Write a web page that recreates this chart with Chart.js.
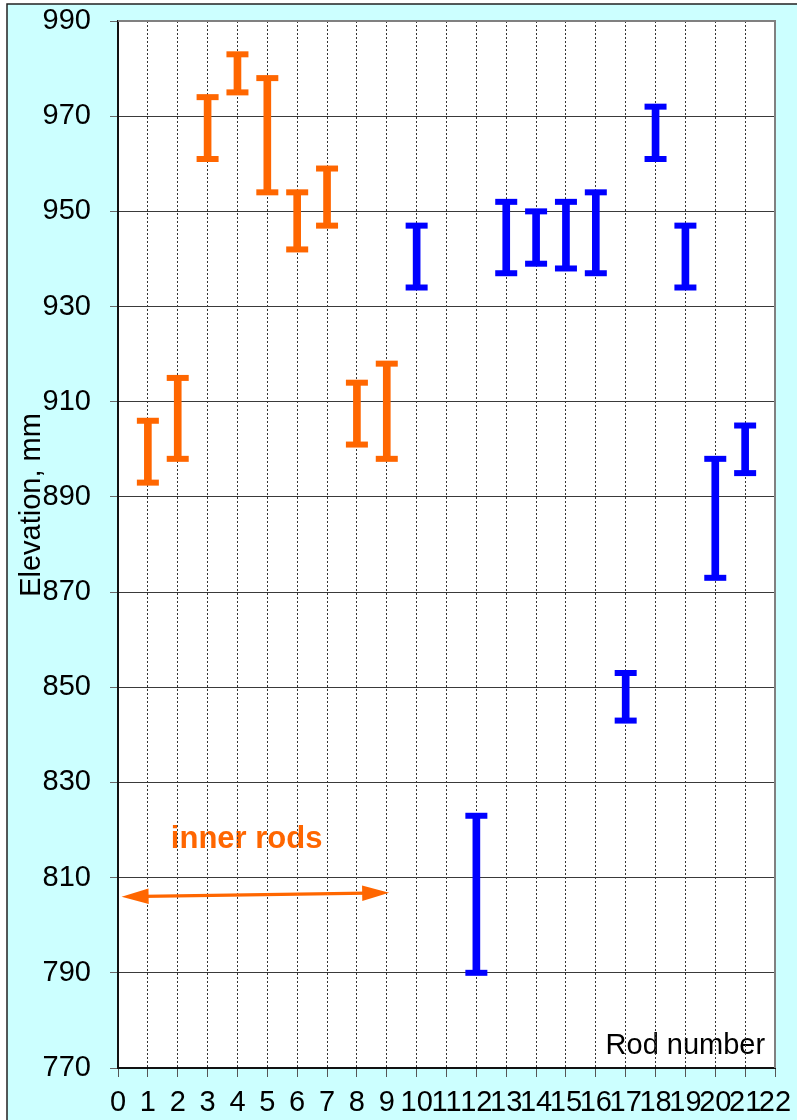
<!DOCTYPE html>
<html>
<head>
<meta charset="utf-8">
<script src="https://cdn.jsdelivr.net/npm/chart.js@4.4.0/dist/chart.umd.min.js"></script>
<style>
  html, body { margin: 0; padding: 0; background: #fff; }
  canvas { display: block; }
</style>
</head>
<body>
<canvas id="chart" width="797" height="1120"></canvas>
<script>
// Elevation range (low / high, mm) measured on each rod
const innerRods = [1, 2, 3, 4, 5, 6, 7, 8, 9];
const innerLow  = [893, 898, 961, 975, 954, 942, 947, 901, 898];
const innerHigh = [906, 915, 974, 983, 978, 954, 959, 914, 918];

const outerRods = [10, 12, 13, 14, 15, 16, 17, 18, 19, 20, 21];
const outerLow  = [934, 790, 937, 939, 938, 937, 843, 961, 934, 873, 895];
const outerHigh = [947, 823, 952, 950, 952, 954, 853, 972, 947, 898, 905];

// Axis ranges
const rodAxis = { min: 0, max: 22, step: 1 };
const elevAxis = { min: 770, max: 990, step: 20 };

// Annotation: arrow spanning the inner rods, with its label
const arrowFrom = [0.12, 806.0];
const arrowTo   = [9.08, 806.8];
const innerLabelAt = [1.77, 816.2];
const rodTitleAt = [21.67, 772.9];

const ORANGE = '#FF6600';
const BLUE = '#0000FF';
const FONT = '"Liberation Sans", Arial, sans-serif';

const ranges = (xs, lo, hi) => xs.map((x, i) => ({ x: x, y: [lo[i], hi[i]] }));
const caps = (xs, lo, hi) => xs.map((x, i) => ({ x: x, y: lo[i] }))
  .concat(xs.map((x, i) => ({ x: x, y: hi[i] })));

const barStyle = color => ({
  type: 'bar',
  backgroundColor: color,
  borderWidth: 0,
  borderSkipped: false,
  barThickness: 7,
  grouped: false
});
const capStyle = color => ({
  type: 'scatter',
  showLine: false,
  pointStyle: 'line',
  pointRadius: 11,
  pointHoverRadius: 11,
  pointBorderWidth: 6,
  pointBorderColor: color,
  pointBackgroundColor: color,
  borderColor: color
});

const backdrop = {
  id: 'backdrop',
  beforeDraw(chart) {
    const { ctx, width, height, chartArea: a, scales } = chart;
    const px = v => scales.x.getPixelForValue(v);
    const py = v => scales.y.getPixelForValue(v);
    ctx.save();
    ctx.fillStyle = '#fff';
    ctx.fillRect(0, 0, width, height);
    ctx.fillStyle = '#CCFFFF';
    ctx.fillRect(7, 4, width - 7, height - 4);
    ctx.strokeStyle = '#222';
    ctx.lineWidth = 1.5;
    ctx.beginPath();
    ctx.moveTo(7, height);
    ctx.lineTo(7, 4);
    ctx.lineTo(width, 4);
    ctx.stroke();
    ctx.fillStyle = '#fff';
    ctx.fillRect(a.left, a.top, a.right - a.left, a.bottom - a.top);

    // text boxes sit beneath the grid
    ctx.fillStyle = '#000';
    ctx.font = '29px ' + FONT;
    ctx.textAlign = 'right';
    ctx.textBaseline = 'alphabetic';
    ctx.fillText('Rod number', px(rodTitleAt[0]), py(rodTitleAt[1]));

    ctx.save();
    ctx.translate(40, 505);
    ctx.rotate(-Math.PI / 2);
    ctx.textAlign = 'center';
    ctx.fillText('Elevation, mm', 0, 0);
    ctx.restore();

    ctx.fillStyle = ORANGE;
    ctx.font = 'bold 31px ' + FONT;
    ctx.textAlign = 'left';
    ctx.fillText('inner rods', px(innerLabelAt[0]), py(innerLabelAt[1]));
    ctx.restore();
  },
  afterDraw(chart) {
    const { ctx, chartArea: a, scales } = chart;
    const px = v => scales.x.getPixelForValue(v);
    const py = v => scales.y.getPixelForValue(v);
    ctx.save();
    // plot frame (top and right)
    ctx.strokeStyle = '#808080';
    ctx.lineWidth = 2;
    ctx.beginPath();
    ctx.moveTo(a.left, a.top);
    ctx.lineTo(a.right, a.top);
    ctx.lineTo(a.right, a.bottom);
    ctx.stroke();

    // double arrow across the inner rods
    const x1 = px(arrowFrom[0]), y1 = py(arrowFrom[1]);
    const x2 = px(arrowTo[0]), y2 = py(arrowTo[1]);
    const ang = Math.atan2(y2 - y1, x2 - x1);
    const headLen = 27, headHalf = 7.8;
    ctx.strokeStyle = ORANGE;
    ctx.fillStyle = ORANGE;
    ctx.lineWidth = 3.3;
    ctx.beginPath();
    ctx.moveTo(x1 + Math.cos(ang) * headLen * 0.8, y1 + Math.sin(ang) * headLen * 0.8);
    ctx.lineTo(x2 - Math.cos(ang) * headLen * 0.8, y2 - Math.sin(ang) * headLen * 0.8);
    ctx.stroke();
    const head = (tx, ty, dir) => {
      const c = Math.cos(ang) * dir, s = Math.sin(ang) * dir;
      const bx = tx - c * headLen, by = ty - s * headLen;
      ctx.beginPath();
      ctx.moveTo(tx, ty);
      ctx.lineTo(bx - s * headHalf, by + c * headHalf);
      ctx.lineTo(bx + s * headHalf, by - c * headHalf);
      ctx.closePath();
      ctx.fill();
    };
    head(x2, y2, 1);
    head(x1, y1, -1);
    ctx.restore();
  }
};

new Chart(document.getElementById('chart'), {
  type: 'bar',
  data: {
    datasets: [
      Object.assign({ label: 'inner', data: ranges(innerRods, innerLow, innerHigh) }, barStyle(ORANGE)),
      Object.assign({ label: 'outer', data: ranges(outerRods, outerLow, outerHigh) }, barStyle(BLUE)),
      Object.assign({ label: 'inner caps', data: caps(innerRods, innerLow, innerHigh) }, capStyle(ORANGE)),
      Object.assign({ label: 'outer caps', data: caps(outerRods, outerLow, outerHigh) }, capStyle(BLUE))
    ]
  },
  options: {
    responsive: false,
    animation: false,
    devicePixelRatio: 1,
    events: [],
    layout: { padding: { top: 21, right: 22, bottom: 0, left: 0 } },
    plugins: {
      legend: { display: false },
      title: { display: false },
      tooltip: { enabled: false }
    },
    scales: {
      x: {
        type: 'linear',
        min: rodAxis.min,
        max: rodAxis.max,
        offset: false,
        ticks: {
          stepSize: rodAxis.step,
          autoSkip: false,
          maxRotation: 0,
          minRotation: 0,
          color: '#000',
          padding: 9,
          font: { size: 29, family: FONT }
        },
        grid: {
          offset: false,
          color: '#333',
          lineWidth: 1,
          tickLength: 9,
          tickColor: '#555',
          tickBorderDash: []
        },
        border: { color: '#111', width: 2, dash: [2, 2] },
        afterFit(s) { s.height = 52; s.paddingLeft = 0; s.paddingRight = 0; }
      },
      y: {
        type: 'linear',
        min: elevAxis.min,
        max: elevAxis.max,
        ticks: {
          stepSize: elevAxis.step,
          color: '#000',
          padding: 19,
          font: { size: 29, family: FONT }
        },
        grid: {
          color: '#3a3a3a',
          lineWidth: 1,
          tickLength: 8,
          tickColor: '#666'
        },
        border: { color: '#111', width: 2 },
        afterFit(s) { s.width = 118; s.paddingTop = 0; s.paddingBottom = 0; }
      }
    }
  },
  plugins: [backdrop]
});
</script>
</body>
</html>
